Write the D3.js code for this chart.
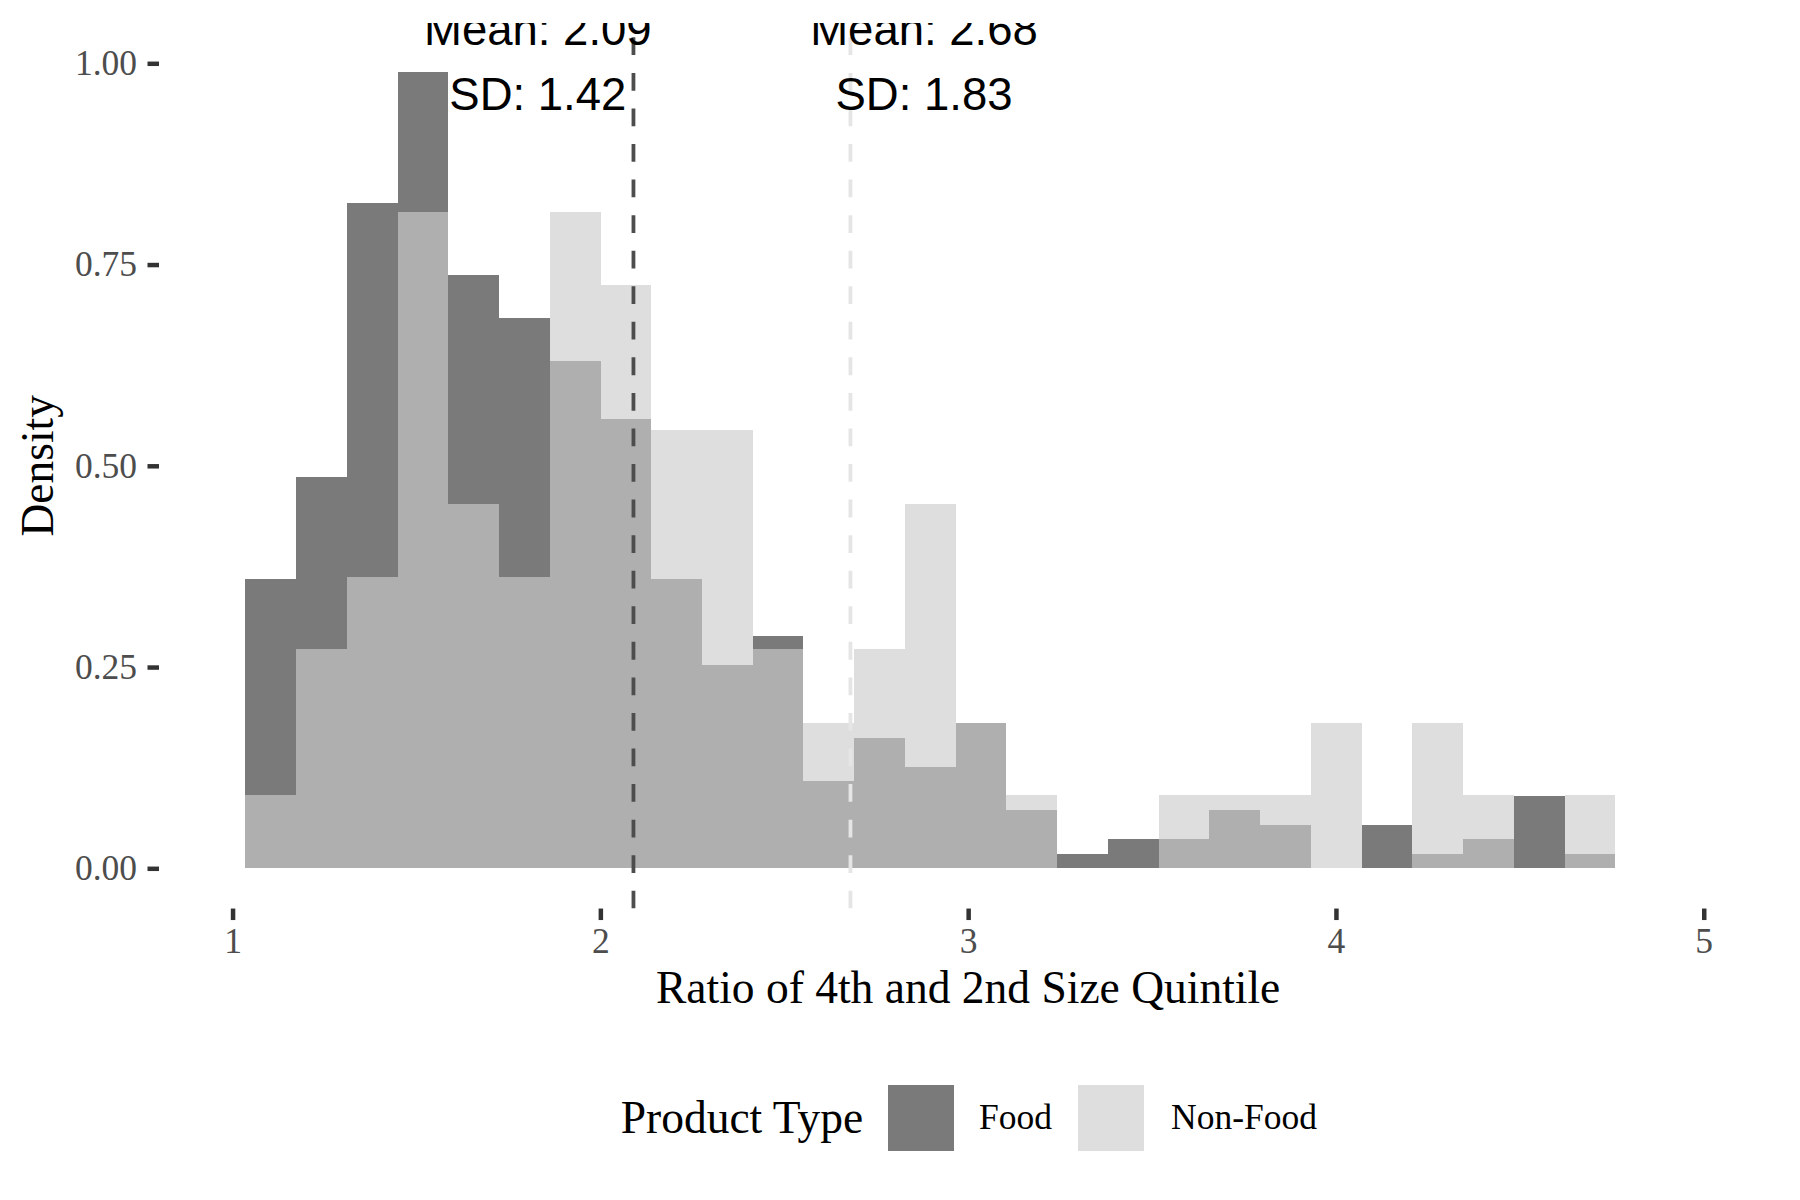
<!DOCTYPE html>
<html>
<head>
<meta charset="utf-8">
<script src="https://cdn.jsdelivr.net/npm/d3@7"></script>
<style>
  body { margin: 0; background: #ffffff; }
</style>
</head>
<body>
<svg id="chart" width="1800" height="1200"></svg>
<script>
// ---- data ----
const binEdges = [1.035, 1.173, 1.311, 1.449, 1.587, 1.725, 1.863, 2.001, 2.139, 2.277,
                  2.414, 2.552, 2.690, 2.828, 2.966, 3.104, 3.242, 3.380, 3.518, 3.656,
                  3.794, 3.932, 4.070, 4.208, 4.346, 4.484, 4.622, 4.760];
const foodDensity = [0.360, 0.486, 0.827, 0.989, 0.737, 0.684, 0.630, 0.558, 0.360, 0.252,
                     0.288, 0.108, 0.162, 0.126, 0.180, 0.072, 0.018, 0.036, 0.036, 0.072,
                     0.054, 0.000, 0.054, 0.018, 0.036, 0.090, 0.018];
const nonFoodDensity = [0.091, 0.272, 0.362, 0.815, 0.453, 0.362, 0.815, 0.725, 0.544, 0.544,
                        0.272, 0.181, 0.272, 0.453, 0.181, 0.091, 0.000, 0.000, 0.091, 0.091,
                        0.091, 0.181, 0.000, 0.181, 0.091, 0.000, 0.091];
const groups = ["Food", "Non-Food"];
const groupMeans = [2.09, 2.68];
const groupSDs = [1.42, 1.83];
const labelX = [1.83, 2.88];
const labelY = 1.0;
const xTicks = [1, 2, 3, 4, 5];
const yTicks = [0, 0.25, 0.50, 0.75, 1.00];
const xTitle = "Ratio of 4th and 2nd Size Quintile";
const yTitle = "Density";
const legendTitle = "Product Type";

// ---- styles ----
const fillColors = ["#333333", "#cccccc"];
const fillAlpha = 0.65;
const lineColors = ["#4d4d4d", "#e5e5e5"];
const serif = "'Liberation Serif', 'Times New Roman', serif";
const sans = "'Liberation Sans', Arial, sans-serif";

const svg = d3.select("#chart");
const panel = { left: 159, right: 1777.3, top: 23.05, bottom: 908.55 };

const x = d3.scaleLinear().domain([0.8, 5.2]).range([panel.left, panel.right]);
const y = d3.scaleLinear().domain([-0.05, 1.05]).range([panel.bottom, panel.top]);

svg.append("rect").attr("width", 1800).attr("height", 1200).attr("fill", "#ffffff");

svg.append("defs").append("clipPath").attr("id", "panelClip")
  .append("rect")
  .attr("x", panel.left).attr("y", panel.top)
  .attr("width", panel.right - panel.left).attr("height", panel.bottom - panel.top);

const plot = svg.append("g").attr("clip-path", "url(#panelClip)");

// histogram bars
const series = [foodDensity, nonFoodDensity];
series.forEach((vals, gi) => {
  plot.append("g")
    .attr("class", "bars-" + gi)
    .selectAll("rect")
    .data(vals.map((v, i) => ({ v, x0: binEdges[i], x1: binEdges[i + 1] })).filter(d => d.v > 0))
    .join("rect")
    .attr("x", d => x(d.x0))
    .attr("width", d => x(d.x1) - x(d.x0))
    .attr("y", d => y(d.v))
    .attr("height", d => y(0) - y(d.v))
    .attr("fill", fillColors[gi])
    .attr("fill-opacity", fillAlpha)
    .attr("shape-rendering", "crispEdges");
});

// mean lines (dashed), drawn bottom to top
groupMeans.forEach((m, gi) => {
  plot.append("line")
    .attr("x1", x(m)).attr("x2", x(m))
    .attr("y1", y(-0.05)).attr("y2", y(1.05))
    .attr("stroke", lineColors[gi])
    .attr("stroke-width", 3.8)
    .attr("stroke-dasharray", "17.78 17.78");
});

// annotations
groupMeans.forEach((m, gi) => {
  const t = plot.append("text")
    .attr("text-anchor", "middle")
    .attr("font-family", sans)
    .attr("font-size", 45.5)
    .attr("fill", "#000000");
  t.append("tspan")
    .attr("x", x(labelX[gi]))
    .attr("y", y(labelY) - 18)
    .text("Mean: " + m.toFixed(2));
  t.append("tspan")
    .attr("x", x(labelX[gi]))
    .attr("y", y(labelY) + 47)
    .text("SD: " + groupSDs[gi].toFixed(2));
});

// axes
const yAxis = svg.append("g")
  .attr("transform", `translate(${panel.left},0)`)
  .call(d3.axisLeft(y).tickValues(yTicks).tickFormat(d3.format(".2f")).tickSize(11.5).tickPadding(10.5));
const xAxis = svg.append("g")
  .attr("transform", `translate(0,${panel.bottom})`)
  .call(d3.axisBottom(x).tickValues(xTicks).tickFormat(d3.format("d")).tickSize(11.5).tickPadding(8.1));

[xAxis, yAxis].forEach(ax => {
  ax.select(".domain").remove();
  ax.selectAll(".tick line").attr("stroke", "#333333").attr("stroke-width", 4.5);
  ax.selectAll(".tick text")
    .attr("font-family", serif)
    .attr("font-size", 35.5)
    .attr("fill", "#4d4d4d");
});

// axis titles
svg.append("text")
  .attr("x", (panel.left + panel.right) / 2)
  .attr("y", 1002.7)
  .attr("text-anchor", "middle")
  .attr("font-family", serif)
  .attr("font-size", 45.5)
  .attr("fill", "#000000")
  .text(xTitle);

svg.append("text")
  .attr("transform", `translate(53,${(panel.top + panel.bottom) / 2}) rotate(-90)`)
  .attr("text-anchor", "middle")
  .attr("font-family", serif)
  .attr("font-size", 45.5)
  .attr("fill", "#000000")
  .text(yTitle);

// legend
const legend = svg.append("g");
legend.append("text")
  .attr("x", 620.7).attr("y", 1132.7)
  .attr("font-family", serif).attr("font-size", 45.5).attr("fill", "#000000")
  .text(legendTitle);

const keyX = [888, 1078];
const keyLabelX = [979, 1171];
groups.forEach((g, gi) => {
  legend.append("rect")
    .attr("x", keyX[gi]).attr("y", 1085)
    .attr("width", 66).attr("height", 66)
    .attr("fill", fillColors[gi]).attr("fill-opacity", fillAlpha);
  legend.append("text")
    .attr("x", keyLabelX[gi]).attr("y", 1129.3)
    .attr("font-family", serif).attr("font-size", 35.5).attr("fill", "#000000")
    .text(g);
});
</script>
</body>
</html>
